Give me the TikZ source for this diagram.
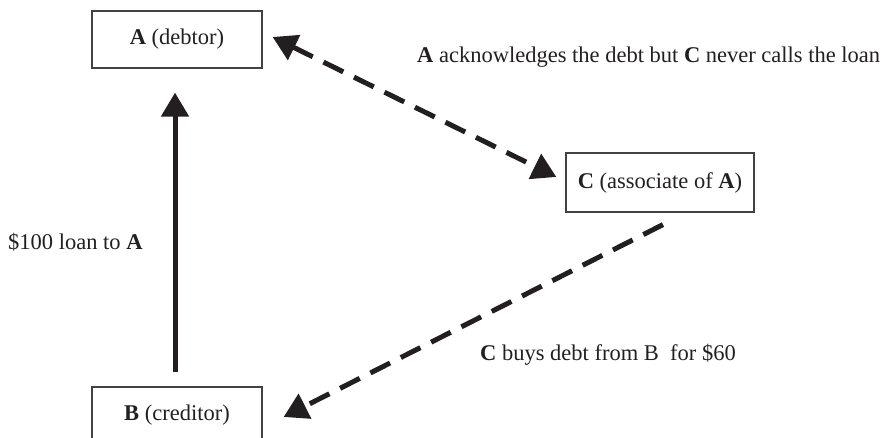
\documentclass[tikz,border=0pt]{standalone}
\usepackage{fontspec}
\setmainfont{Liberation Serif}
\usetikzlibrary{arrows.meta,calc}
\definecolor{ink}{HTML}{231F20}
\tikzset{
  box/.style={draw=ink!85, line width=1.2pt, minimum width=170pt, minimum height=57pt, inner sep=0pt, text=ink},
  lbl/.style={text=ink, inner sep=0pt},
  bigtip/.style={-{Triangle[length=24pt,width=27pt]}},
  dasharrow/.style={draw=ink, line width=5pt, dash pattern=on 22pt off 12pt},
  solidarrow/.style={draw=ink, line width=5pt},
}
\begin{document}
\begin{tikzpicture}[x=1pt,y=-1pt,font=\fontsize{22.5}{27}\selectfont]
\useasboundingbox (0,0) rectangle (889,438);
\node[box] (A) at (177,39.5) {\textbf{A} (debtor)};
\node[box] (B) at (177,415.5) {\textbf{B} (creditor)};
\node[box, minimum width=188pt, minimum height=59pt] (C) at (660,182.5) {\textbf{C} (associate of \textbf{A})};
\draw[solidarrow, bigtip] ($(B.north)+(-2,-14)$) -- ($(A.south)+(-2,24)$);
\draw[dasharrow, {Triangle[length=24pt,width=27pt]}-{Triangle[length=24pt,width=27pt]}] ($(A.east)+(10,-2.5)$) -- ($(C.west)+(-9,-5.5)$);
\draw[dasharrow, bigtip] ($(C.south)+(3,12)$) -- ($(B.east)+(21,1.5)$);
\node[lbl, anchor=base west] (tAC) at (417,63) {\textbf{A} acknowledges the debt but \textbf{C} never calls the loan};
\node[lbl, anchor=base west] (tAB) at (8,250) {\$100 loan to \textbf{A}};
\node[lbl, anchor=base west] (tCB) at (480,360) {\textbf{C} buys debt from B\ \ for \$60};
\end{tikzpicture}
\end{document}
